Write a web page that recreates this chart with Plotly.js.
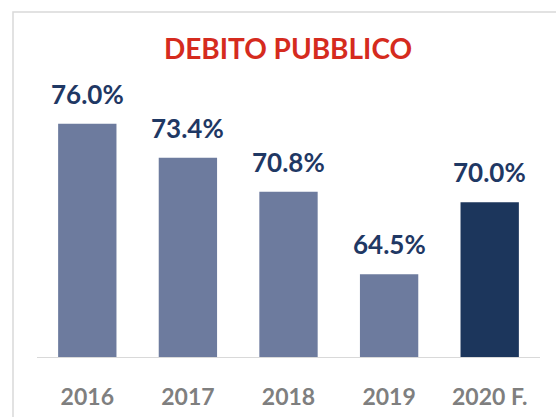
<!DOCTYPE html>
<html>
<head>
<meta charset="utf-8">
<script src="https://cdn.plot.ly/plotly-3.0.1.min.js"></script>
<style>html,body{margin:0;padding:0;background:#fff;}#chart{width:556px;height:417px;}</style>
</head>
<body>
<div id="chart"></div>
<script>
const categories = ["2016", "2017", "2018", "2019", "2020 F."];
const debtValues = [76.0, 73.4, 70.8, 64.5, 70.0];
const barColors = ["#6D7B9E", "#6D7B9E", "#6D7B9E", "#6D7B9E", "#1C365C"];
const valueLabels = debtValues.map(v => v.toFixed(1) + "%");

const FONT = "Lato, 'Open Sans', 'Liberation Sans', sans-serif";

const trace = {
  type: "bar",
  x: categories,
  y: debtValues,
  marker: {color: barColors},
  hoverinfo: "none"
};

const annotations = categories.map((c, i) => ({
  x: i, y: debtValues[i], xref: "x", yref: "y",
  text: "<b>" + valueLabels[i] + "</b>",
  showarrow: false, yanchor: "bottom", yshift: 12,
  font: {family: FONT, size: 26, color: "#1F3864"}
}));

const layout = {
  width: 556, height: 417,
  margin: {l: 37, r: 16, t: 60, b: 60},
  paper_bgcolor: "#fff", plot_bgcolor: "#fff",
  showlegend: false,
  bargap: 0.42,
  title: {
    text: "<b>DEBITO PUBBLICO</b>",
    font: {family: FONT, size: 28, color: "#D52B1E"},
    x: 0.518, xref: "container", xanchor: "center",
    y: 0.882, yref: "container", yanchor: "middle"
  },
  xaxis: {
    type: "category",
    range: [-0.5, categories.length - 0.5],
    showline: true, linecolor: "#D9D9D9", linewidth: 1,
    showgrid: false, zeroline: false, ticks: "",
    ticklabelstandoff: 19,
    tickfont: {family: FONT, size: 23, color: "#7F7F7F", weight: "bold"}
  },
  yaxis: {
    range: [58.19, 80.86],
    visible: false, showgrid: false, zeroline: false
  },
  annotations: annotations,
  shapes: [{
    type: "rect", xref: "paper", yref: "paper",
    x0: (13 - 37) / 503, x1: 1.2, y0: -0.5, y1: (357 - 12) / 297,
    line: {color: "#D9D9D9", width: 1.5}, fillcolor: "rgba(0,0,0,0)", layer: "below"
  }]
};

Plotly.newPlot("chart", [trace], layout, {displayModeBar: false, staticPlot: true});
</script>
</body>
</html>
